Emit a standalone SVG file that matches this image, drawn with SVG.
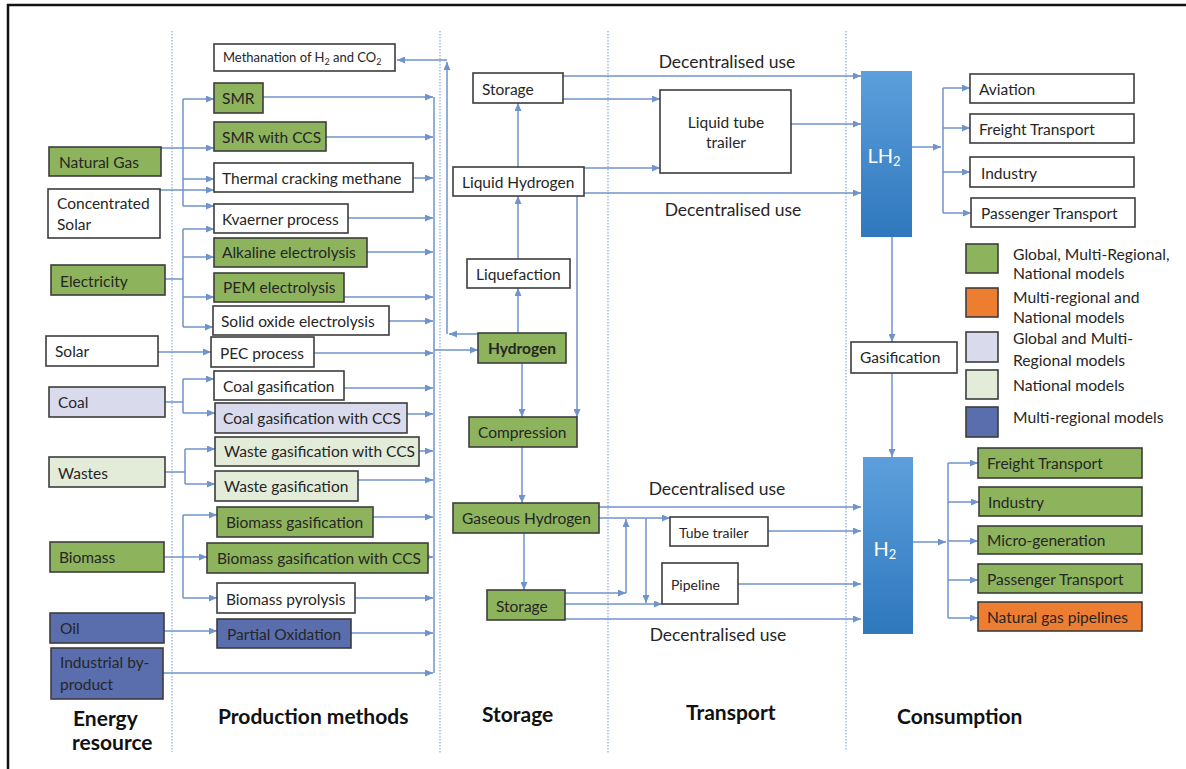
<svg xmlns="http://www.w3.org/2000/svg" width="1186" height="769" viewBox="0 0 1186 769">
<defs>
<style>
.bx{stroke:#3d3d3d;stroke-width:1.6}
.w{fill:#fff}.g{fill:#8db35c}.lv{fill:#d9dbec}.lg{fill:#e3ebd9}.db{fill:#5a6dad}.or{fill:#ed7d31}
text{font-family:Lato,"Liberation Sans",sans-serif;font-size:15.5px;fill:#262626;dominant-baseline:central}
.s{font-size:14px}
.m{font-size:13px}
.lt{font-size:15.7px}
.h{font-size:21px;font-weight:bold;fill:#111;dominant-baseline:auto}
.du{font-size:17.5px;text-anchor:middle}
.c{stroke:#6f93cb;stroke-width:1.5;fill:none}
.a{marker-end:url(#ar)}
.dot{stroke:#8fa8d8;stroke-width:1.2;stroke-dasharray:1.5 1.5;fill:none}
.bar{fill:url(#bg)}
.wt{fill:#fff;font-size:20px;text-anchor:middle}
</style>
<marker id="ar" markerUnits="userSpaceOnUse" markerWidth="8" markerHeight="7" refX="8" refY="3.5" orient="auto">
<path d="M0,0 L8,3.5 L0,7 z" fill="#6f93cb"/>
</marker>
<linearGradient id="bg" x1="0" y1="0" x2="0" y2="1">
<stop offset="0" stop-color="#5c9fdc"/>
<stop offset="1" stop-color="#2f78bd"/>
</linearGradient>
</defs>
<rect width="1186" height="769" fill="#fff"/>
<path d="M7,5 H1186 M8,4 V769" stroke="#111" stroke-width="2.5" fill="none"/>

<g id="dividers">
<path class="dot" d="M172,31 V752 M440,31 V753 M608,31 V753 M846,31 V750"/>
</g>

<g id="connectors">
<path class="c a" d="M161,148 H214"/>
<path class="c" d="M183,99 V206"/>
<path class="c a" d="M183,99 H214"/>
<path class="c a" d="M183,179 H214"/>
<path class="c a" d="M183,206 H214"/>
<path class="c a" d="M160,190 H214"/>
<path class="c" d="M165,279 H183 M183,229 V327"/>
<path class="c a" d="M183,229 H214"/>
<path class="c a" d="M183,257 H214"/>
<path class="c a" d="M183,297 H214"/>
<path class="c a" d="M183,327 H213"/>
<path class="c a" d="M158,352 H211"/>
<path class="c" d="M165,402 H183 M183,379 V413"/>
<path class="c a" d="M183,379 H214"/>
<path class="c a" d="M183,413 H215"/>
<path class="c" d="M165,472 H185 M185,449 V484"/>
<path class="c a" d="M185,449 H215"/>
<path class="c a" d="M185,484 H215"/>
<path class="c a" d="M164,557 H207"/>
<path class="c" d="M183,515 V598"/>
<path class="c a" d="M183,515 H217"/>
<path class="c a" d="M183,598 H217"/>
<path class="c a" d="M164,631 H217"/>
<path class="c a" d="M163,673 H433"/>
<path class="c a" d="M263,97 H433"/>
<path class="c a" d="M326,137 H433"/>
<path class="c a" d="M413,178 H433"/>
<path class="c a" d="M348,218 H433"/>
<path class="c a" d="M367,252 H433"/>
<path class="c a" d="M344,297 H433"/>
<path class="c a" d="M389,321 H433"/>
<path class="c a" d="M314,353 H433"/>
<path class="c a" d="M344,388 H433"/>
<path class="c a" d="M407,414 H433"/>
<path class="c a" d="M419,451 H433"/>
<path class="c a" d="M358,480 H433"/>
<path class="c a" d="M373,517 H433"/>
<path class="c a" d="M428,557 H433"/>
<path class="c a" d="M355,598 H433"/>
<path class="c a" d="M351,633 H433"/>
<path class="c" d="M434,97 V673"/>
<path class="c a" d="M434,350 H478"/>
<path class="c a" d="M478,334 H449"/>
<path class="c a" d="M447,334 V62"/>
<path class="c a" d="M447,60 H397"/>
<path class="c a" d="M518,167 V103"/>
<path class="c a" d="M518,259 V196"/>
<path class="c a" d="M518,333 V288"/>
<path class="c a" d="M563,76 H861"/>
<path class="c a" d="M563,99 H660"/>
<path class="c a" d="M791,124 H861"/>
<path class="c a" d="M584,168 H660"/>
<path class="c a" d="M584,193 H861"/>
<path class="c a" d="M577,196 V417"/>
<path class="c a" d="M522,363 V417"/>
<path class="c a" d="M522,447 V503"/>
<path class="c a" d="M524,533 V590"/>
<path class="c a" d="M599,507 H861"/>
<path class="c a" d="M599,518 H670"/>
<path class="c a" d="M768,531 H861"/>
<path class="c a" d="M646,518 V603"/>
<path class="c a" d="M565,593 H626"/>
<path class="c a" d="M626,593 V519"/>
<path class="c a" d="M565,604 H662"/>
<path class="c a" d="M738,584 H861"/>
<path class="c a" d="M565,619 H861"/>
<path class="c a" d="M892,237 V342"/>
<path class="c a" d="M892,373 V457"/>
<path class="c a" d="M912,147 H941"/>
<path class="c" d="M943,88 V213"/>
<path class="c a" d="M943,88 H970"/>
<path class="c a" d="M943,128 H970"/>
<path class="c a" d="M943,172 H970"/>
<path class="c a" d="M943,213 H971"/>
<path class="c a" d="M913,542 H946"/>
<path class="c" d="M948,463 V618"/>
<path class="c a" d="M948,463 H978"/>
<path class="c a" d="M948,502 H979"/>
<path class="c a" d="M948,541 H978"/>
<path class="c a" d="M948,580 H978"/>
<path class="c a" d="M948,618 H978"/>
</g>

<g id="natural-gas"><rect class="bx g" x="49" y="147" width="112" height="29"/><text x="59" y="162">Natural Gas</text></g>
<g id="concentrated-solar"><rect class="bx w" x="48" y="189" width="112" height="49"/><text x="57" y="203">Concentrated</text><text x="57" y="224">Solar</text></g>
<g id="electricity"><rect class="bx g" x="51" y="265" width="114" height="30"/><text x="60" y="281">Electricity</text></g>
<g id="solar"><rect class="bx w" x="46" y="336" width="112" height="30"/><text x="55" y="351">Solar</text></g>
<g id="coal"><rect class="bx lv" x="49" y="387" width="116" height="30"/><text x="58" y="402">Coal</text></g>
<g id="wastes"><rect class="bx lg" x="49" y="457" width="116" height="30"/><text x="58" y="473">Wastes</text></g>
<g id="biomass"><rect class="bx g" x="50" y="542" width="114" height="30"/><text x="59" y="557">Biomass</text></g>
<g id="oil"><rect class="bx db" x="50" y="613" width="114" height="30"/><text x="60" y="628">Oil</text></g>
<g id="industrial-by-product"><rect class="bx db" x="51" y="648" width="112" height="51"/><text x="60" y="662">Industrial by-</text><text x="60" y="684">product</text></g>

<g id="methanation"><rect class="bx w" x="214" y="44" width="181" height="27"/><text class="m" x="223" y="57">Methanation of H<tspan font-size="9" dy="4">2</tspan><tspan dy="-4"> and CO</tspan><tspan font-size="9" dy="4">2</tspan></text></g>
<g id="smr"><rect class="bx g" x="214" y="83" width="49" height="30"/><text x="222" y="98">SMR</text></g>
<g id="smr-ccs"><rect class="bx g" x="214" y="122" width="112" height="29"/><text x="222" y="137">SMR with CCS</text></g>
<g id="thermal-cracking"><rect class="bx w" x="214" y="163" width="199" height="29"/><text x="222" y="178">Thermal cracking methane</text></g>
<g id="kvaerner"><rect class="bx w" x="214" y="204" width="134" height="29"/><text x="222" y="219">Kvaerner process</text></g>
<g id="alkaline"><rect class="bx g" x="214" y="238" width="153" height="29"/><text x="222" y="252">Alkaline electrolysis</text></g>
<g id="pem"><rect class="bx g" x="214" y="273" width="130" height="29"/><text x="223" y="287">PEM electrolysis</text></g>
<g id="solid-oxide"><rect class="bx w" x="213" y="306" width="176" height="29"/><text x="221" y="321">Solid oxide electrolysis</text></g>
<g id="pec"><rect class="bx w" x="211" y="337" width="103" height="30"/><text x="220" y="353">PEC process</text></g>
<g id="coal-gasification"><rect class="bx w" x="214" y="371" width="130" height="29"/><text x="223" y="386">Coal gasification</text></g>
<g id="coal-gasification-ccs"><rect class="bx lv" x="215" y="403" width="192" height="30"/><text x="223" y="418">Coal gasification with CCS</text></g>
<g id="waste-gasification-ccs"><rect class="bx lg" x="215" y="437" width="204" height="29"/><text x="224" y="451">Waste gasification with CCS</text></g>
<g id="waste-gasification"><rect class="bx lg" x="215" y="471" width="143" height="30"/><text x="224" y="486">Waste gasification</text></g>
<g id="biomass-gasification"><rect class="bx g" x="217" y="507" width="156" height="30"/><text x="226" y="522">Biomass gasification</text></g>
<g id="biomass-gasification-ccs"><rect class="bx g" x="207" y="543" width="221" height="30"/><text x="217" y="558">Biomass gasification with CCS</text></g>
<g id="biomass-pyrolysis"><rect class="bx w" x="217" y="583" width="138" height="30"/><text x="226" y="599">Biomass pyrolysis</text></g>
<g id="partial-oxidation"><rect class="bx db" x="217" y="619" width="134" height="29"/><text x="227" y="634">Partial Oxidation</text></g>

<g id="storage-liquid"><rect class="bx w" x="473" y="73" width="90" height="30"/><text x="482" y="89">Storage</text></g>
<g id="liquid-hydrogen"><rect class="bx w" x="453" y="167" width="131" height="29"/><text x="462" y="182">Liquid Hydrogen</text></g>
<g id="liquefaction"><rect class="bx w" x="467" y="259" width="103" height="29"/><text x="476" y="274">Liquefaction</text></g>
<g id="hydrogen"><rect class="bx g" x="478" y="333" width="88" height="30"/><text x="488" y="348" font-weight="bold">Hydrogen</text></g>
<g id="compression"><rect class="bx g" x="469" y="417" width="108" height="30"/><text x="478" y="432">Compression</text></g>
<g id="gaseous-hydrogen"><rect class="bx g" x="453" y="503" width="146" height="30"/><text x="462" y="518">Gaseous Hydrogen</text></g>
<g id="storage-gas"><rect class="bx g" x="487" y="590" width="78" height="30"/><text x="496" y="606">Storage</text></g>

<g id="liquid-tube-trailer"><rect class="bx w" x="660" y="90" width="131" height="83"/><text x="726" y="122" text-anchor="middle">Liquid tube</text><text x="726" y="142" text-anchor="middle">trailer</text></g>
<g id="tube-trailer"><rect class="bx w" x="670" y="517" width="98" height="29"/><text class="s" x="679" y="532">Tube trailer</text></g>
<g id="pipeline"><rect class="bx w" x="662" y="563" width="76" height="41"/><text class="s" x="671" y="584">Pipeline</text></g>
<g id="labels">
<text class="du" x="727" y="61">Decentralised use</text>
<text class="du" x="733" y="209">Decentralised use</text>
<text class="du" x="717" y="488">Decentralised use</text>
<text class="du" x="718" y="634">Decentralised use</text>
</g>

<g id="lh2"><rect class="bar" x="861" y="71" width="51" height="166"/><text class="wt" x="884" y="155">LH<tspan font-size="13" dy="6">2</tspan></text></g>
<g id="gasification"><rect class="bx w" x="851" y="342" width="106" height="31"/><text x="860" y="357">Gasification</text></g>
<g id="h2"><rect class="bar" x="863" y="457" width="50" height="177"/><text class="wt" x="885" y="548">H<tspan font-size="13" dy="6">2</tspan></text></g>
<g id="aviation"><rect class="bx w" x="970" y="74" width="164" height="29"/><text x="979" y="89">Aviation</text></g>
<g id="freight-lh2"><rect class="bx w" x="970" y="114" width="164" height="29"/><text x="979" y="129">Freight Transport</text></g>
<g id="industry-lh2"><rect class="bx w" x="970" y="157" width="164" height="30"/><text x="981" y="173">Industry</text></g>
<g id="passenger-lh2"><rect class="bx w" x="971" y="198" width="164" height="29"/><text x="981" y="213">Passenger Transport</text></g>
<g id="freight-h2"><rect class="bx g" x="978" y="448" width="164" height="30"/><text x="987" y="463">Freight Transport</text></g>
<g id="industry-h2"><rect class="bx g" x="979" y="487" width="163" height="29"/><text x="988" y="502">Industry</text></g>
<g id="micro-generation"><rect class="bx g" x="978" y="526" width="164" height="28"/><text x="987" y="540">Micro-generation</text></g>
<g id="passenger-h2"><rect class="bx g" x="978" y="564" width="164" height="29"/><text x="987" y="579">Passenger Transport</text></g>
<g id="natural-gas-pipelines"><rect class="bx or" x="978" y="602" width="164" height="29"/><text x="987" y="617">Natural gas pipelines</text></g>

<g id="legend">
<rect class="bx g" x="966" y="244" width="32" height="29"/>
<text class="lt" x="1013" y="254">Global, Multi-Regional,</text><text class="lt" x="1013" y="273">National models</text>
<rect class="bx or" x="966" y="288" width="32" height="29"/>
<text class="lt" x="1013" y="297">Multi-regional and</text><text class="lt" x="1013" y="317">National models</text>
<rect class="bx lv" x="966" y="332" width="32" height="30"/>
<text class="lt" x="1013" y="338">Global and Multi-</text><text class="lt" x="1013" y="360">Regional models</text>
<rect class="bx lg" x="966" y="370" width="32" height="29"/>
<text class="lt" x="1013" y="385">National models</text>
<rect class="bx db" x="966" y="407" width="32" height="30"/>
<text class="lt" x="1013" y="417">Multi-regional models</text>
</g>

<g id="headers">
<text class="h" x="73" y="726">Energy</text>
<text class="h" x="72" y="750">resource</text>
<text class="h" x="218" y="724">Production methods</text>
<text class="h" x="482" y="722">Storage</text>
<text class="h" x="686" y="720">Transport</text>
<text class="h" x="897" y="724">Consumption</text>
</g>
</svg>
